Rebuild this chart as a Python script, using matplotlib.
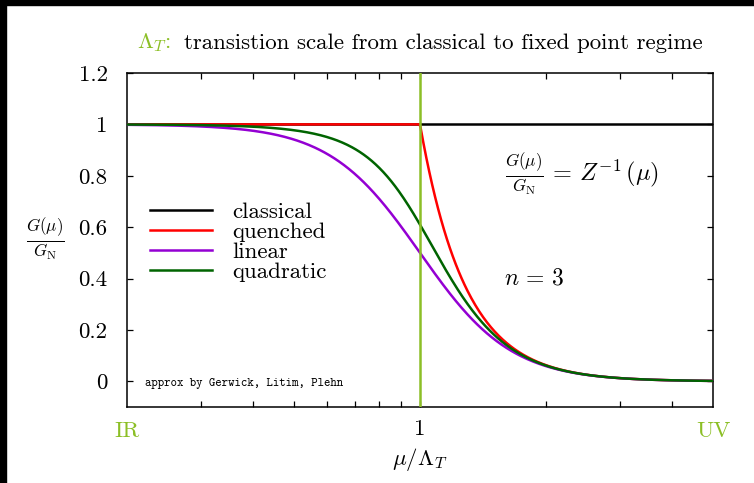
import numpy as np
import matplotlib
matplotlib.use("Agg")
import matplotlib.pyplot as plt
from matplotlib.patches import Rectangle
from matplotlib.lines import Line2D
from matplotlib.ticker import FixedLocator, NullFormatter

plt.rcParams["font.family"] = ["cmr10", "DejaVu Serif"]
plt.rcParams["mathtext.fontset"] = "cm"
plt.rcParams["axes.unicode_minus"] = False

# ---- model parameters -------------------------------------------------
n_label = 3                      # value quoted in the annotation
power = 4                        # scaling exponent of the running coupling
quad_mix = 0.69                  # cross term of the quadratic approximation
x_range = (0.2, 5.0)             # mu / Lambda_T
y_range = (-0.1, 1.2)
y_ticks = [0, 0.2, 0.4, 0.6, 0.8, 1, 1.2]
y_tick_labels = ["0", "0.2", "0.4", "0.6", "0.8", "1", "1.2"]
x_minor_ticks = [0.3, 0.4, 0.5, 0.6, 0.7, 0.8, 0.9, 2, 3, 4]
series_names = ["classical", "quenched", "linear", "quadratic"]
series_colors = ["#000000", "#ff0000", "#9400d3", "#006400"]
accent = "#8cbf26"

mu = np.logspace(np.log10(x_range[0]), np.log10(x_range[1]), 600)
t = mu ** power
curves = {
    "classical": np.ones_like(mu),
    "quenched": np.where(mu < 1, 1.0, 1.0 / np.maximum(t, 1e-12)),
    "linear": 1.0 / (1.0 + t),
    "quadratic": 1.0 / np.sqrt(1.0 + quad_mix * t + t ** 2),
}

FS = 16.5

fig = plt.figure(figsize=(7.54, 4.83), dpi=100)
ax = fig.add_axes([127 / 754, 1 - 407 / 483, (713 - 127) / 754, (407 - 73) / 483])

for name, color in zip(series_names, series_colors):
    ax.plot(mu, curves[name], color=color, lw=1.8, zorder=3)

ax.axvline(1.0, color=accent, lw=1.8, zorder=4)

ax.set_xscale("log")
ax.set_xlim(*x_range)
ax.set_ylim(*y_range)

ax.xaxis.set_major_locator(FixedLocator([1]))
ax.xaxis.set_minor_locator(FixedLocator(x_minor_ticks))
ax.xaxis.set_minor_formatter(NullFormatter())
ax.set_xticklabels(["1"])
ax.set_yticks(y_ticks)
ax.set_yticklabels(y_tick_labels)

ax.tick_params(which="both", direction="in", top=True, right=True,
               length=4.5, width=0.9, labelsize=FS)
ax.tick_params(axis="y", pad=14)
ax.tick_params(axis="x", pad=9)
for s in ax.spines.values():
    s.set_linewidth(1.1)

ax.set_xlabel(r"$\mu/\Lambda_T$", fontsize=FS, labelpad=5)
fig.text(45 / 754, 1 - 240 / 483, r"$\frac{G(\mu)}{G_{\mathrm{N}}}$",
         fontsize=FS + 1, ha="center", va="center")

# IR / UV markers at the ends of the scale
ax.text(0.0, -0.072, "IR", transform=ax.transAxes, color=accent,
        fontsize=FS, ha="center", va="center")
ax.text(1.0, -0.072, "UV", transform=ax.transAxes, color=accent,
        fontsize=FS, ha="center", va="center")

# title line with coloured Lambda_T
fig.text(137 / 754, 1 - 43 / 483, r"$\Lambda_T$:", color=accent,
         fontsize=FS, ha="left", va="center")
fig.text(184 / 754, 1 - 43 / 483,
         "transistion scale from classical to fixed point regime",
         fontsize=FS, ha="left", va="center")

ax.text(0.645, 0.695, r"$\frac{G(\mu)}{G_{\mathrm{N}}}\,=\,Z^{-1}\,(\mu)$",
        transform=ax.transAxes, fontsize=FS + 1, ha="left", va="center")
ax.text(0.643, 0.386, r"$n\,=\,%d$" % n_label, transform=ax.transAxes,
        fontsize=FS + 0.5, ha="left", va="center")
ax.text(0.03, 0.07, "approx by Gerwick, Litim, Plehn", transform=ax.transAxes,
        fontsize=8.8, family=["cmtt10", "DejaVu Sans Mono"], ha="left", va="center")

# key: short line sample followed by the series name
key_rows = [0.590, 0.530, 0.470, 0.410]
for name, color, yk in zip(series_names, series_colors, key_rows):
    ax.add_line(Line2D([0.0392, 0.145], [yk, yk], transform=ax.transAxes,
                       color=color, lw=1.8, zorder=5))
    ax.text(0.179, yk, name, transform=ax.transAxes, fontsize=FS,
            ha="left", va="center_baseline")

# dark frame strips along the top and left edges
fig.patches.append(Rectangle((0, 1 - 5 / 483), 1, 5 / 483, transform=fig.transFigure,
                             color="black", zorder=10))
fig.patches.append(Rectangle((0, 0), 6 / 754, 1, transform=fig.transFigure,
                             color="black", zorder=10))

fig.savefig("out.png", dpi=100)
